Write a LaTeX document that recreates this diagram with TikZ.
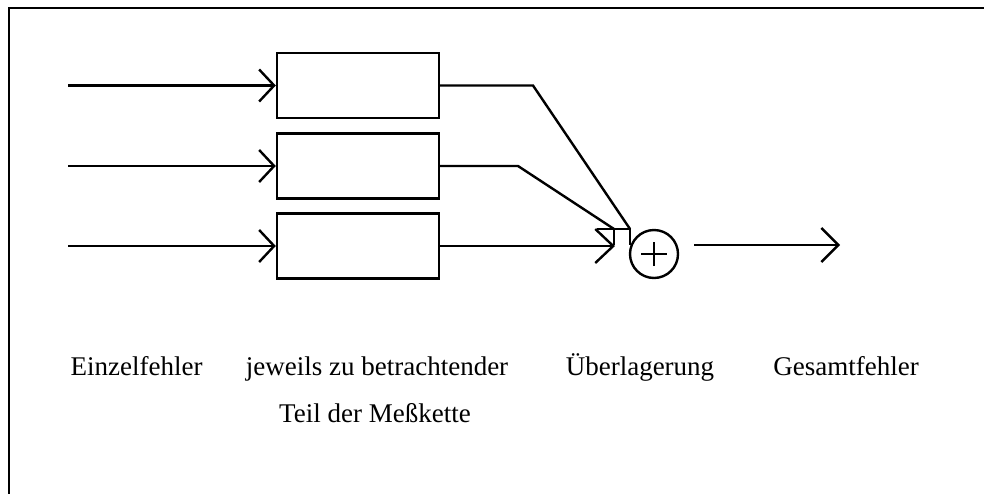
\documentclass[tikz,border=0pt]{standalone}
\usepackage{fontspec}
\setmainfont{Liberation Serif}
\usetikzlibrary{arrows.meta}
\begin{document}
\begin{tikzpicture}[x=1pt,y=-1pt,
  blk/.style={draw,line width=2.4pt,minimum width=162pt,minimum height=65pt,inner sep=0pt},
  conn/.style={line width=2.4pt},
  tipin/.style={-{Straight Barb[length=15pt,width=32pt,line width=2.4pt]}},
  lbl/.style={anchor=base,inner sep=0pt,font=\fontsize{27}{32}\selectfont},
  sumc/.style={draw,circle,line width=2.4pt,minimum size=48pt,inner sep=0pt}]
\useasboundingbox (0,0) rectangle (984,493);
% frame
\draw[line width=2.8pt] (9,500) -- (9,8) -- (1000,8);
% blocks
\node[blk] (b1) at (358,85.5) {};
\node[blk] (b2) at (358,166) {};
\node[blk] (b3) at (358,246) {};
% inputs
\coordinate (i1) at (68,85.5);
\coordinate (i2) at (68,166);
\coordinate (i3) at (68,246);
\draw[conn,tipin] (i1) -- (b1.west);
\draw[conn,tipin] (i2) -- (b2.west);
\draw[conn,tipin] (i3) -- (b3.west);
% sum
\node[sumc] (s) at (654,254) {};
\draw[line width=2.4pt] ([xshift=-13pt]s.center) -- ([xshift=13pt]s.center)
      ([yshift=-12pt]s.center) -- ([yshift=12pt]s.center);
% connectors to sum
\coordinate (k1) at (533,85.5);
\coordinate (t1) at (630,229);
\coordinate (k2) at (518,166);
\coordinate (t2) at (614,229);
\coordinate (t3) at (615,246);
\draw[conn] (b1.east) -- (k1) -- (t1);
\draw[conn] ([xshift=-17pt]t1) -- (t1) -- ([yshift=-16pt]t1);
\draw[conn] (b2.east) -- (k2) -- (t2);
\draw[conn] ([xshift=-17pt]t2) -- (t2) -- ([yshift=-16pt]t2);
\draw[conn,-{Straight Barb[length=18pt,width=34pt,line width=2.4pt]}] (b3.east) -- (t3);
% output
\coordinate (o) at (840,245);
\draw[conn,-{Straight Barb[length=17pt,width=34pt,line width=2.4pt]}] ([xshift=15pt]s.east |- o) -- (o);
% labels
\node[lbl] (l1) at (136.5,375) {Einzelfehler};
\node[lbl] (l2) at (377,375) {jeweils zu betrachtender};
\node[lbl] (l3) at (375,422) {Teil der Meßkette};
\node[lbl] (l4) at (640,375) {Überlagerung};
\node[lbl] (l5) at (846,375) {Gesamtfehler};
\end{tikzpicture}
\end{document}
